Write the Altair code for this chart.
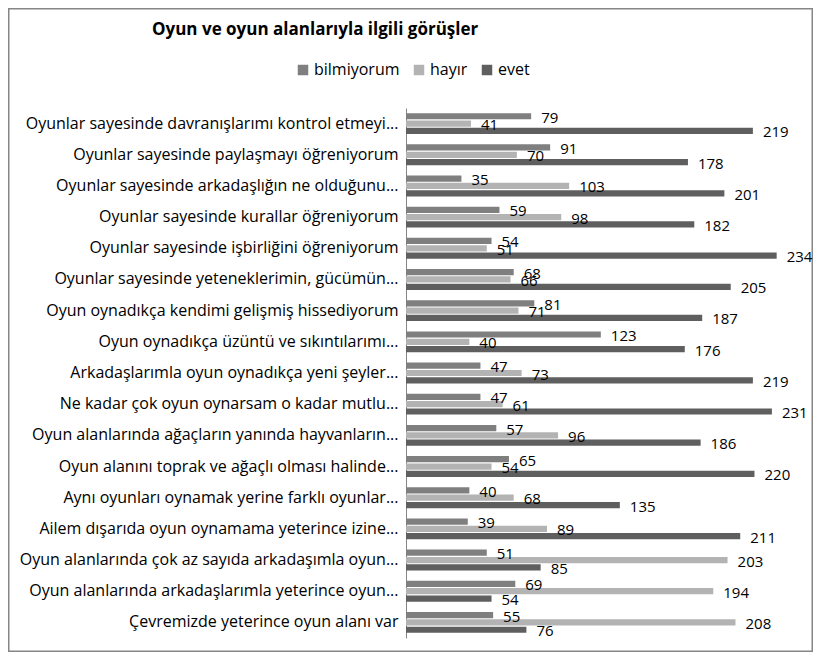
import altair as alt
import pandas as pd

categories = [
    "Oyunlar sayesinde davranışlarımı kontrol etmeyi...",
    "Oyunlar sayesinde paylaşmayı öğreniyorum\u00a0\u00a0",
    "Oyunlar sayesinde arkadaşlığın ne olduğunu...",
    "Oyunlar sayesinde kurallar öğreniyorum\u00a0\u00a0",
    "Oyunlar sayesinde işbirliğini öğreniyorum\u00a0\u00a0",
    "Oyunlar sayesinde yeteneklerimin, gücümün...",
    "Oyun oynadıkça kendimi gelişmiş hissediyorum\u00a0\u00a0",
    "Oyun oynadıkça üzüntü ve sıkıntılarımı...",
    "Arkadaşlarımla oyun oynadıkça yeni şeyler...",
    "Ne kadar çok oyun oynarsam o kadar mutlu...",
    "Oyun alanlarında ağaçların yanında hayvanların...",
    "Oyun alanını toprak ve ağaçlı olması halinde...",
    "Aynı oyunları oynamak yerine farklı oyunlar...",
    "Ailem dışarıda oyun oynamama yeterince izine...",
    "Oyun alanlarında çok az sayıda arkadaşımla oyun...",
    "Oyun alanlarında arkadaşlarımla yeterince oyun...",
    "Çevremizde yeterince oyun alanı var\u00a0\u00a0",
]
series = ["bilmiyorum", "hayır", "evet"]
bilmiyorum = [79, 91, 35, 59, 54, 68, 81, 123, 47, 47, 57, 65, 40, 39, 51, 69, 55]
hayir = [41, 70, 103, 98, 51, 66, 71, 40, 73, 61, 96, 54, 68, 89, 203, 194, 208]
evet = [219, 178, 201, 182, 234, 205, 187, 176, 219, 231, 186, 220, 135, 211, 85, 54, 76]
colors = ["#7f7f7f", "#b3b3b3", "#5f5f5f"]

rows = []
for i, c in enumerate(categories):
    for s, vals in zip(series, [bilmiyorum, hayir, evet]):
        rows.append({"kategori": c, "seri": s, "deger": vals[i]})
df = pd.DataFrame(rows)

FONT = "Open Sans"
W, H = 396, 530
PL, PT, PR, PB = 398, 100, 11, 14

y_enc = alt.Y("kategori:N", sort=categories, title=None,
              scale=alt.Scale(paddingInner=0.33, paddingOuter=0.165),
              axis=alt.Axis(labelFont=FONT, labelFontSize=16, labelColor="#000000",
                            labelLimit=420, labelPadding=8, ticks=False,
                            domainColor="#868686", grid=False))
yoff = alt.YOffset("seri:N", sort=series,
                   scale=alt.Scale(paddingInner=0.15, paddingOuter=0))
x_enc = alt.X("deger:Q", scale=alt.Scale(domain=[0, 250]), axis=None)

base = alt.Chart(df)

bars = base.mark_bar(cornerRadius=0).encode(
    x=x_enc,
    y=y_enc,
    yOffset=yoff,
    color=alt.Color("seri:N", sort=series,
                    scale=alt.Scale(domain=series, range=colors),
                    legend=alt.Legend(title=None, orient="none", direction="horizontal",
                                      legendX=-111, legendY=-46,
                                      symbolType="square", symbolSize=110,
                                      symbolStrokeWidth=0, labelFont=FONT,
                                      labelFontSize=16, labelColor="#000000",
                                      labelOffset=3, columnPadding=11)),
)

labels = base.mark_text(align="left", baseline="middle", dx=10, dy=1.5,
                        font=FONT, fontSize=15, color="#000000").encode(
    x=x_enc,
    y=alt.Y("kategori:N", sort=categories),
    yOffset=yoff,
    text="deger:Q",
)

frame = alt.Chart(pd.DataFrame({"a": [0]})).mark_rect(
    filled=False, stroke="#868686", strokeWidth=1.5).encode(
    x=alt.value(-PL + 0.75), x2=alt.value(W + PR - 0.75),
    y=alt.value(-PT + 0.75), y2=alt.value(H + PB - 0.75),
)

chart = alt.layer(frame, bars, labels).properties(
    width=W, height=H,
    title=alt.TitleParams("Oyun ve oyun alanlarıyla ilgili görüşler", anchor="start",
                          frame="group", dx=-254, dy=31, offset=0, font=FONT,
                          fontSize=17, fontWeight="bold", color="#000000"),
    autosize=alt.AutoSizeParams(type="none"),
    padding={"left": PL, "top": PT, "right": PR, "bottom": PB},
).configure_view(stroke=None)

chart.save("out.html", embed_options={"renderer": "svg", "actions": False})
